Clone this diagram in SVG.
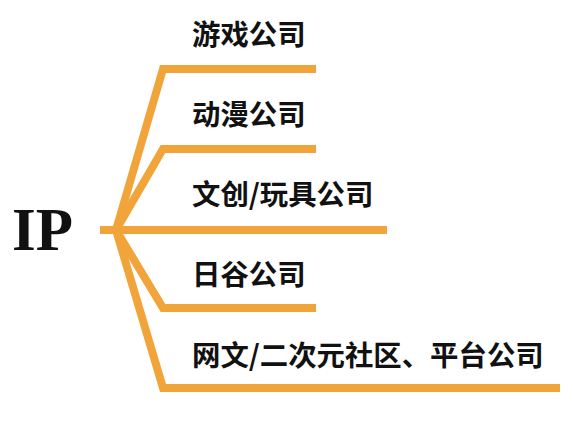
<svg xmlns="http://www.w3.org/2000/svg" width="574" height="424" viewBox="0 0 574 424">
<style>
.c{fill:none;stroke:#F0A43A;stroke-width:8;stroke-linejoin:miter;stroke-linecap:butt}
.t{font-family:"Noto Sans CJK SC","Noto Sans",sans-serif;font-size:28.4px;font-weight:bold;fill:#111}
.ip{font-family:"Liberation Serif",serif;font-size:61px;font-weight:bold;fill:#111}
</style>
<rect width="574" height="424" fill="#fff"/>
<g id="connectors">
<path class="c" d="M100,230 H116"/>
<path class="c" d="M116,230 L163,69 H316"/>
<path class="c" d="M116,230 L163,149 H316"/>
<path class="c" d="M116,230 H387"/>
<path class="c" d="M116,230 L163,308 H316"/>
<path class="c" d="M116,230 L163,388 H560"/>
</g>
<g id="root"><text class="ip" x="12" y="250">IP</text></g>
<g id="n1"><text class="t" x="192" y="45">游戏公司</text></g>
<g id="n2"><text class="t" x="192" y="125">动漫公司</text></g>
<g id="n3"><text class="t" x="192" y="205">文创/玩具公司</text></g>
<g id="n4"><text class="t" x="192" y="285">日谷公司</text></g>
<g id="n5"><text class="t" x="192" y="366">网文/二次元社区、平台公司</text></g>
</svg>
